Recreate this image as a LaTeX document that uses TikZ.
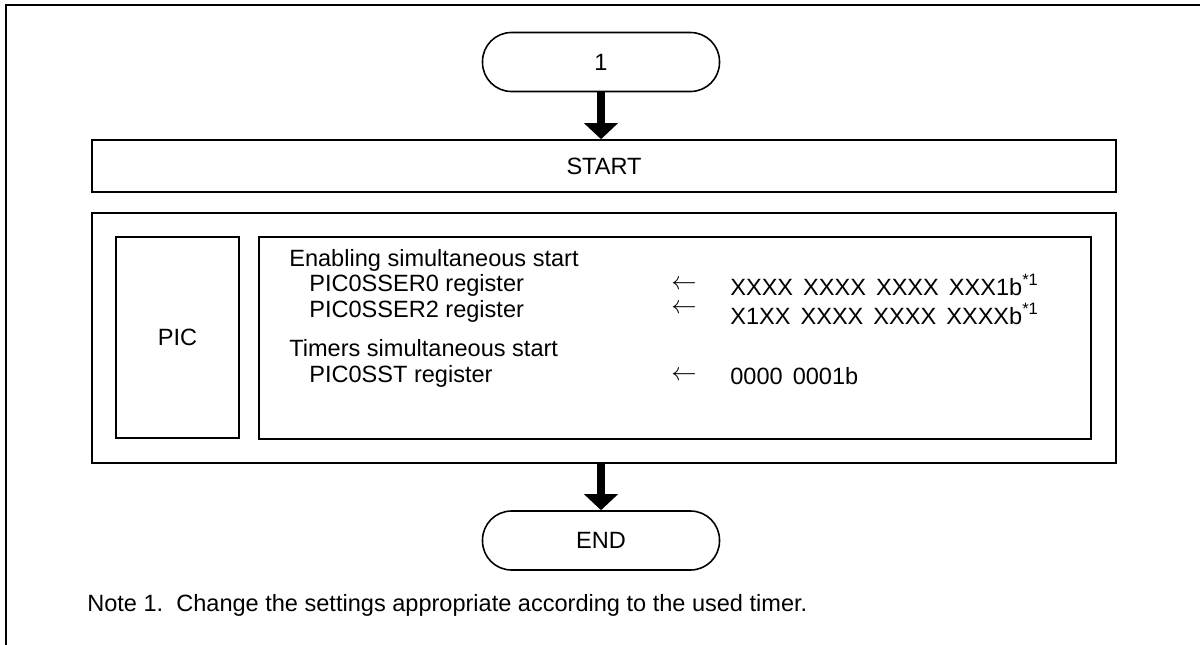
\documentclass[tikz,border=0pt]{standalone}
\usepackage{fontspec}
\setmainfont{Liberation Sans}
\usetikzlibrary{arrows.meta}

\tikzset{
  term/.style={draw,line width=0.9pt,rounded corners=0.58cm,minimum width=4.74cm,minimum height=1.18cm},
  blk/.style={draw,line width=0.9pt},
  flow/.style={-{Triangle[width=0.66cm,length=0.32cm]},line width=4.4pt},
  txt/.style={anchor=west,inner sep=0pt}
}
\newcommand{\gp}{\ \kern0.07cm}

\begin{document}
\begin{tikzpicture}[every node/.style={font=\fontsize{13.4}{16}\selectfont}]
 \useasboundingbox (0,0) rectangle (24,-12.88);
 % frame
 \draw[line width=1.2pt] (0.12,-13.2) -- (0.12,-0.1) -- (24.3,-0.1);

 \node[term] (one) at (12.02,-1.24) {1};
 \node[blk,minimum width=20.48cm,minimum height=1.04cm] (start) at (12.08,-3.32) {START};
 \node[blk,minimum width=20.48cm,minimum height=5cm] (body) at (12.08,-6.76) {};
 \node[blk,minimum width=2.46cm,minimum height=4.02cm] (pic) at (3.55,-6.75) {PIC};
 \node[blk,minimum width=16.64cm,minimum height=4.04cm] (set) at (13.5,-6.76) {};
 \node[term] (end) at (12.02,-10.81) {END};

 % settings
 \node[txt] (en)   at (5.78,-5.20) {Enabling simultaneous start};
 \node[txt] (ser0) at (6.18,-5.70) {PIC0SSER0 register};
 \node[txt] (ser2) at (6.18,-6.22) {PIC0SSER2 register};
 \node[txt] (tm)   at (5.78,-6.96) {Timers simultaneous start};
 \node[txt] (sst)  at (6.18,-7.52) {PIC0SST register};
 \node[txt] (a0) at (13.42,-5.70) {$\leftarrow$};
 \node[txt] (a2) at (13.42,-6.18) {$\leftarrow$};
 \node[txt] (a3) at (13.42,-7.52) {$\leftarrow$};
 \node[txt] (v0) at (14.60,-5.70) {XXXX\gp XXXX\gp XXXX\gp XXX1b\textsuperscript{*1}};
 \node[txt] (v2) at (14.60,-6.28) {X1XX\gp XXXX\gp XXXX\gp XXXXb\textsuperscript{*1}};
 \node[txt] (v3) at (14.60,-7.52) {0000\gp 0001b};

 \draw[flow] (one) -- (one |- start.north);
 \draw[flow] (end |- body.south) -- (end);

 \node[txt] (note) at (1.74,-12.1) {Note 1.\ \ Change the settings appropriate according to the used timer.};
\end{tikzpicture}
\end{document}
